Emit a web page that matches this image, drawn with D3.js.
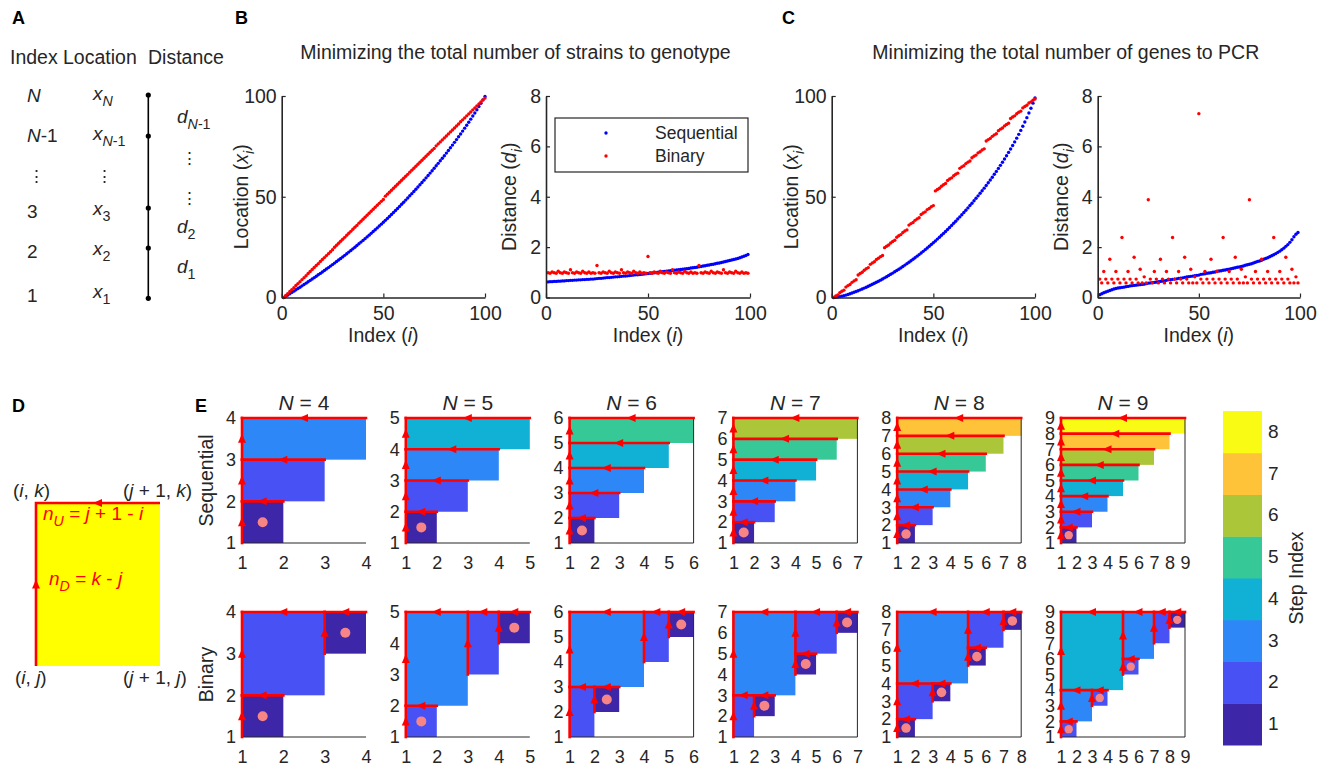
<html>
<head>
<meta charset="utf-8">
<script src="https://d3js.org/d3.v7.min.js"></script>
<style>
body { margin: 0; background: #fff; }
svg { font-family: "Liberation Sans", Arial, Helvetica, sans-serif; }
</style>
</head>
<body>
<div id="stuff"><svg width="1328" height="769"></svg></div>
<script>
// ---------- data ----------
// distances d_i (i = 1..99); locations are their running sum from x_1 = 0
var strainSeqDist = [
  0.62,0.63,0.63,0.64,0.64,0.65,0.65,0.66,0.66,0.67,
  0.67,0.68,0.68,0.69,0.69,0.70,0.70,0.71,0.71,0.72,
  0.72,0.73,0.73,0.74,0.75,0.76,0.76,0.77,0.78,0.79,
  0.79,0.80,0.81,0.82,0.82,0.83,0.84,0.85,0.85,0.86,
  0.87,0.88,0.89,0.90,0.90,0.91,0.92,0.93,0.94,0.95,
  0.96,0.97,0.98,0.99,1.00,1.01,1.02,1.03,1.04,1.05,
  1.06,1.07,1.08,1.09,1.10,1.11,1.12,1.13,1.14,1.15,
  1.17,1.18,1.19,1.20,1.22,1.23,1.25,1.26,1.28,1.29,
  1.31,1.32,1.34,1.36,1.37,1.39,1.41,1.43,1.45,1.47,
  1.49,1.51,1.53,1.55,1.58,1.61,1.64,1.67,1.71
];
var strainBinDist = [
  0.98,0.96,1.01,0.98,0.96,1.04,0.98,0.96,1.01,0.98,0.96,1.10,0.98,0.96,1.01,0.98,0.96,1.04,0.98,0.96,1.01,0.96,0.98,0.96,
  1.27,
  0.98,0.96,1.01,0.98,0.96,1.04,0.98,0.96,1.01,0.98,0.96,1.10,0.98,0.96,1.01,0.98,0.96,1.04,0.98,0.96,1.01,0.96,0.98,0.96,
  1.63,
  0.98,0.96,1.01,0.98,0.96,1.04,0.98,0.96,1.01,0.98,0.96,1.10,0.98,0.96,1.01,0.98,0.96,1.04,0.98,0.96,1.01,0.96,0.98,0.96,
  1.27,
  0.98,0.96,1.01,0.98,0.96,1.04,0.98,0.96,1.01,0.98,0.96,1.10,0.98,0.96,1.01,0.98,0.96,1.04,0.98,0.96,1.01,0.96,0.98,0.96
];
var geneSeqDist = [
  0.11,0.15,0.19,0.22,0.25,0.28,0.31,0.34,0.36,0.38,
  0.39,0.40,0.41,0.43,0.44,0.46,0.47,0.48,0.49,0.50,
  0.51,0.52,0.53,0.55,0.57,0.58,0.59,0.60,0.61,0.63,
  0.64,0.65,0.66,0.68,0.70,0.71,0.72,0.73,0.74,0.76,
  0.77,0.78,0.80,0.82,0.83,0.84,0.85,0.87,0.88,0.89,
  0.92,0.93,0.94,0.96,0.97,0.98,1.00,1.01,1.04,1.05,
  1.06,1.08,1.09,1.11,1.12,1.14,1.16,1.18,1.20,1.21,
  1.23,1.25,1.28,1.30,1.32,1.34,1.37,1.40,1.43,1.45,
  1.48,1.52,1.55,1.58,1.62,1.66,1.70,1.74,1.79,1.84,
  1.90,1.96,2.03,2.10,2.19,2.29,2.41,2.51,2.58
];
var geneBinDist = [
  0.73,0.58,1.03,0.73,0.58,1.52,0.73,0.58,1.03,0.73,0.58,2.38,0.73,0.58,1.03,0.73,0.58,1.60,0.73,0.58,1.12,0.58,0.82,0.58,
  3.88,
  0.73,0.58,1.03,0.73,0.58,1.52,0.73,0.58,1.03,0.73,0.58,2.38,0.73,0.58,1.03,0.73,0.58,1.60,0.73,0.58,1.12,0.58,0.82,0.58,
  7.30,
  0.73,0.58,1.03,0.73,0.58,1.52,0.73,0.58,1.03,0.73,0.58,2.38,0.73,0.58,1.03,0.73,0.58,1.60,0.73,0.58,1.12,0.58,0.82,0.58,
  3.88,
  0.73,0.58,1.03,0.73,0.58,1.52,0.73,0.58,1.03,0.73,0.58,2.38,0.73,0.58,1.03,0.73,0.58,1.60,0.73,0.58,1.12,0.58,0.82,0.58
];
var indexTicks = [0, 50, 100];
var locTicks = [0, 50, 100];
var distTicks = [0, 2, 4, 6, 8];
var seriesNames = ["Sequential", "Binary"];
var seriesColors = ["#0000ff", "#ff0000"];

// panel E: one split per entry, [i, j, k, step] -> block (i, j) .. (j + 1, k)
var panelN = [4, 5, 6, 7, 8, 9];
var seqSplits = [
  [[1,1,2,1],[1,2,3,2],[1,3,4,3]],
  [[1,1,2,1],[1,2,3,2],[1,3,4,3],[1,4,5,4]],
  [[1,1,2,1],[1,2,3,2],[1,3,4,3],[1,4,5,4],[1,5,6,5]],
  [[1,1,2,1],[1,2,3,2],[1,3,4,3],[1,4,5,4],[1,5,6,5],[1,6,7,6]],
  [[1,1,2,1],[1,2,3,2],[1,3,4,3],[1,4,5,4],[1,5,6,5],[1,6,7,6],[1,7,8,7]],
  [[1,1,2,1],[1,2,3,2],[1,3,4,3],[1,4,5,4],[1,5,6,5],[1,6,7,6],[1,7,8,7],[1,8,9,8]]
];
var binSplits = [
  [[1,2,4,2],[1,1,2,1],[3,3,4,1]],
  [[1,2,5,3],[1,1,2,2],[3,3,5,2],[4,4,5,1]],
  [[1,3,6,3],[1,1,3,2],[2,2,3,1],[4,4,6,2],[5,5,6,1]],
  [[1,3,7,3],[1,1,3,2],[2,2,3,1],[4,5,7,2],[4,4,5,1],[6,6,7,1]],
  [[1,4,8,3],[1,2,4,2],[1,1,2,1],[3,3,4,1],[5,6,8,2],[5,5,6,1],[7,7,8,1]],
  [[1,4,9,4],[1,2,4,3],[1,1,2,2],[3,3,4,2],[5,6,9,3],[5,5,6,2],[7,7,9,2],[8,8,9,1]]
];
var stepLevels = [1, 2, 3, 4, 5, 6, 7, 8];
var stepColors = ["#3e26a8","#4852f4","#2e87f7","#11b1d6","#37c897","#abc739","#fec338","#f9fb15"];

// ---------- drawing ----------
var ink = "#262626";
var red = "#ff0000";
var svg = d3.select("#stuff").select("svg");

// text with italic ("i") and subscript ("s") pieces
function rich(g, x, y, parts, size, fill, anchor) {
  var t = g.append("text")
    .attr("x", x)
    .attr("y", y)
    .attr("font-size", size)
    .attr("fill", fill || ink)
    .attr("text-anchor", anchor || "start")
    .style("white-space", "pre");
  var shift = 0;
  parts.forEach(function (p) {
    var flags = p[1] || "";
    var sub = flags.indexOf("s") >= 0;
    var want = sub ? Math.round(size * 0.32) : 0;
    var s = t.append("tspan").text(p[0]);
    if (want !== shift) { s.attr("dy", want - shift); shift = want; }
    if (flags.indexOf("i") >= 0) s.attr("font-style", "italic");
    if (sub) s.attr("font-size", size * 0.75);
  });
  return t;
}

function arrowLeft(g, cx, cy, col) {
  g.append("path")
    .attr("d", "M" + (cx - 5) + "," + cy + "L" + (cx + 4) + "," + (cy - 4) + "L" + (cx + 4) + "," + (cy + 4) + "Z")
    .attr("fill", col);
}
function arrowUp(g, cx, cy, col) {
  g.append("path")
    .attr("d", "M" + cx + "," + (cy - 5) + "L" + (cx - 4) + "," + (cy + 4) + "L" + (cx + 4) + "," + (cy + 4) + "Z")
    .attr("fill", col);
}

// panel letters
[["A", 12, 24], ["B", 235, 24], ["C", 782, 24], ["D", 12, 412], ["E", 195, 412]].forEach(function (p) {
  svg.append("text")
    .attr("x", p[1]).attr("y", p[2])
    .attr("font-size", 18).attr("font-weight", "bold").attr("fill", "#000")
    .text(p[0]);
});

// ---- A: schematic ----
var gA = svg.append("g");
rich(gA, 10, 64, [["Index"]], 19.5);
rich(gA, 63, 64, [["Location"]], 19.5);
rich(gA, 148, 64, [["Distance"]], 19.5);
rich(gA, 27, 102, [["N", "i"]], 19);
rich(gA, 27, 142, [["N", "i"], ["-1"]], 19);
rich(gA, 28, 182, [["\u22EE"]], 17);
rich(gA, 27, 218, [["3"]], 19);
rich(gA, 27, 258, [["2"]], 19);
rich(gA, 27, 302, [["1"]], 19);
rich(gA, 93, 100, [["x", "i"], ["N", "is"]], 19);
rich(gA, 93, 140, [["x", "i"], ["N", "is"], ["-1", "s"]], 19);
rich(gA, 96, 182, [["\u22EE"]], 17);
rich(gA, 93, 215, [["x", "i"], ["3", "s"]], 19);
rich(gA, 93, 255, [["x", "i"], ["2", "s"]], 19);
rich(gA, 93, 298, [["x", "i"], ["1", "s"]], 19);
rich(gA, 177, 123, [["d", "i"], ["N", "is"], ["-1", "s"]], 19);
rich(gA, 181, 164, [["\u22EE"]], 17);
rich(gA, 181, 204, [["\u22EE"]], 17);
rich(gA, 177, 233, [["d", "i"], ["2", "s"]], 19);
rich(gA, 177, 273, [["d", "i"], ["1", "s"]], 19);
gA.append("line")
  .attr("x1", 148.3).attr("x2", 148.3).attr("y1", 95).attr("y2", 298.3)
  .attr("stroke", "#000").attr("stroke-width", 1.6);
[95, 136, 208, 248, 298.3].forEach(function (yy) {
  gA.append("circle").attr("cx", 148.3).attr("cy", yy).attr("r", 2.6).attr("fill", "#000");
});

// ---- B, C: scatter panels ----
function scatterPanel(x0, x1, yMax, yTicks, yLabel, labelGap, series) {
  var top = 96, bottom = 297.5;
  var g = svg.append("g");
  var x = d3.scaleLinear().domain([0, 100]).range([x0, x1]);
  var y = d3.scaleLinear().domain([0, yMax]).range([bottom, top]);
  series.forEach(function (s, k) {
    g.append("g").selectAll("circle")
      .data(s)
      .enter().append("circle")
      .attr("cx", function (d, i) { return x(i + 1); })
      .attr("cy", function (d) { return y(d); })
      .attr("r", 1.7)
      .attr("fill", seriesColors[k]);
  });
  var ax = g.append("g")
    .attr("transform", "translate(0," + bottom + ")")
    .call(d3.axisBottom(x).tickValues(indexTicks).tickSize(-4).tickSizeOuter(0).tickPadding(9));
  var ay = g.append("g")
    .attr("transform", "translate(" + x0 + ",0)")
    .call(d3.axisLeft(y).tickValues(yTicks).tickSize(-4).tickSizeOuter(0).tickPadding(5));
  [ax, ay].forEach(function (a) {
    a.attr("font-family", null).attr("font-size", 19.5);
    a.select(".domain").attr("stroke", ink).attr("stroke-width", 1.6);
    a.selectAll(".tick line").attr("stroke", ink).attr("stroke-width", 1.2);
    a.selectAll(".tick text").attr("fill", ink);
  });
  rich(g, (x0 + x1) / 2, 342, [["Index ("], ["i", "i"], [")"]], 19.5, ink, "middle");
  var gl = g.append("g")
    .attr("transform", "translate(" + (x0 - labelGap) + "," + ((top + bottom) / 2) + ") rotate(-90)");
  rich(gl, 0, 0, yLabel, 19.5, ink, "middle");
  return { g: g, x: x, y: y };
}

function runningSum(dist) {
  return [0].concat(Array.from(d3.cumsum(dist)));
}

var locLabel = [["Location ("], ["x", "i"], ["i", "is"], [")"]];
var distLabel = [["Distance ("], ["d", "i"], ["i", "is"], [")"]];

rich(svg, 515.5, 59, [["Minimizing the total number of strains to genotype"]], 19.5, ink, "middle");
rich(svg, 1065.8, 59, [["Minimizing the total number of genes to PCR"]], 19.5, ink, "middle");

scatterPanel(281.7, 485, 100, locTicks, locLabel, 34, [runningSum(strainSeqDist), runningSum(strainBinDist)]);
var pB = scatterPanel(546, 750, 8, distTicks, distLabel, 30, [strainSeqDist, strainBinDist]);
scatterPanel(831.7, 1035, 100, locTicks, locLabel, 34, [runningSum(geneSeqDist), runningSum(geneBinDist)]);
scatterPanel(1097.7, 1300, 8, distTicks, distLabel, 30, [geneSeqDist, geneBinDist]);

// legend in B
var gL = pB.g.append("g");
gL.append("rect")
  .attr("x", 555).attr("y", 118).attr("width", 193).attr("height", 54)
  .attr("fill", "#fff").attr("stroke", ink).attr("stroke-width", 1.2);
seriesNames.forEach(function (name, k) {
  var yy = 133 + k * 23;
  gL.append("circle").attr("cx", 606).attr("cy", yy).attr("r", 1.7).attr("fill", seriesColors[k]);
  gL.append("text")
    .attr("x", 655).attr("y", yy + 6)
    .attr("font-size", 17.5).attr("fill", ink)
    .text(name);
});

// ---- D: single block ----
var gD = svg.append("g");
gD.append("rect").attr("x", 36).attr("y", 503).attr("width", 124).attr("height", 163).attr("fill", "#ffff00");
gD.append("path")
  .attr("d", "M160,503L36,503L36,666")
  .attr("fill", "none").attr("stroke", red).attr("stroke-width", 2.6);
arrowLeft(gD, 98, 503, red);
arrowUp(gD, 36, 584.5, red);
rich(gD, 13, 497, [["("], ["i", "i"], [", "], ["k", "i"], [")"]], 19);
rich(gD, 123, 497, [["("], ["j", "i"], [" + 1, "], ["k", "i"], [")"]], 19);
rich(gD, 15, 684, [["("], ["i", "i"], [", "], ["j", "i"], [")"]], 19);
rich(gD, 123, 684, [["("], ["j", "i"], [" + 1, "], ["j", "i"], [")"]], 19);
rich(gD, 43, 520, [["n", "i"], ["U", "is"], [" = "], ["j", "i"], [" + 1 - "], ["i", "i"]], 19, red);
rich(gD, 49, 585, [["n", "i"], ["D", "is"], [" = "], ["k", "i"], [" - "], ["j", "i"]], 19, red);

// ---- E: step maps ----
function stepMap(N, splits, left, top, bottom, showTitle, rowLabel) {
  var g = svg.append("g");
  var x = d3.scaleLinear().domain([1, N]).range([left, left + 124]);
  var y = d3.scaleLinear().domain([1, N]).range([bottom, top]);
  var ticks = d3.range(1, N + 1);

  g.selectAll("rect.blk")
    .data(splits)
    .enter().append("rect")
    .attr("class", "blk")
    .attr("x", function (d) { return x(d[0]); })
    .attr("y", function (d) { return y(d[2]); })
    .attr("width", function (d) { return x(d[1] + 1) - x(d[0]); })
    .attr("height", function (d) { return y(d[1]) - y(d[2]); })
    .attr("fill", function (d) { return stepColors[d[3] - 1]; });

  // frame
  g.append("line")
    .attr("x1", x(1)).attr("x2", x(N)).attr("y1", y(1)).attr("y2", y(1))
    .attr("stroke", ink).attr("stroke-width", 1);
  if (N >= 6) {
    g.append("line")
      .attr("x1", x(N)).attr("x2", x(N)).attr("y1", y(1)).attr("y2", y(N))
      .attr("stroke", ink).attr("stroke-width", 1);
  }

  splits.forEach(function (d) {
    g.append("line")
      .attr("x1", x(d[0])).attr("x2", x(d[0])).attr("y1", y(d[1])).attr("y2", y(d[2]))
      .attr("stroke", red).attr("stroke-width", 2.6).attr("stroke-linecap", "square");
    g.append("line")
      .attr("x1", x(d[1] + 1)).attr("x2", x(d[0])).attr("y1", y(d[2])).attr("y2", y(d[2]))
      .attr("stroke", red).attr("stroke-width", 2.6).attr("stroke-linecap", "square");
  });
  splits.forEach(function (d) {
    arrowLeft(g, x((d[0] + d[1] + 1) / 2), y(d[2]), red);
    arrowUp(g, x(d[0]), y((d[1] + d[2]) / 2), red);
  });
  var unit = x(2) - x(1);
  g.selectAll("circle.leaf")
    .data(splits.filter(function (d) { return d[2] - d[0] === 1; }))
    .enter().append("circle")
    .attr("class", "leaf")
    .attr("cx", function (d) { return x(d[0] + 0.5); })
    .attr("cy", function (d) { return y(d[0] + 0.5); })
    .attr("r", Math.min(5, unit * 0.27))
    .attr("fill", "#f78585");

  var ax = g.append("g")
    .attr("transform", "translate(0," + bottom + ")")
    .call(d3.axisBottom(x).tickValues(ticks).tickFormat(d3.format("d")).tickSize(0).tickPadding(13));
  var ay = g.append("g")
    .attr("transform", "translate(" + left + ",0)")
    .call(d3.axisLeft(y).tickValues(ticks).tickFormat(d3.format("d")).tickSize(0).tickPadding(6));
  [ax, ay].forEach(function (a) {
    a.attr("font-family", null).attr("font-size", 18);
    a.select(".domain").remove();
    a.selectAll(".tick text").attr("fill", ink);
  });

  if (showTitle) {
    rich(g, left + 62, 410, [["N", "i"], [" = " + N]], 21, ink, "middle");
  }
  if (rowLabel) {
    var gl = g.append("g")
      .attr("transform", "translate(213," + ((top + bottom) / 2) + ") rotate(-90)");
    rich(gl, 0, 0, [[rowLabel]], 19.5, ink, "middle");
  }
}

panelN.forEach(function (N, p) {
  var left = 242 + p * 163.8;
  stepMap(N, seqSplits[p], left, 418, 543, true, p === 0 ? "Sequential" : null);
  stepMap(N, binSplits[p], left, 612, 737, false, p === 0 ? "Binary" : null);
});

// colour bar
var cb = d3.scaleBand().domain(stepLevels).range([745, 411]);
svg.append("g").selectAll("rect")
  .data(stepLevels)
  .enter().append("rect")
  .attr("x", 1223)
  .attr("width", 39)
  .attr("y", function (d) { return cb(d); })
  .attr("height", cb.bandwidth() + 0.5)
  .attr("fill", function (d) { return stepColors[d - 1]; });
var cbAxis = svg.append("g")
  .attr("transform", "translate(1262,0)")
  .call(d3.axisRight(cb).tickSize(0).tickPadding(6));
cbAxis.attr("font-family", null).attr("font-size", 19);
cbAxis.select(".domain").remove();
cbAxis.selectAll(".tick text").attr("fill", ink);
var gCb = svg.append("g").attr("transform", "translate(1303,578) rotate(-90)");
rich(gCb, 0, 0, [["Step Index"]], 19.5, ink, "middle");
</script>
</body>
</html>
